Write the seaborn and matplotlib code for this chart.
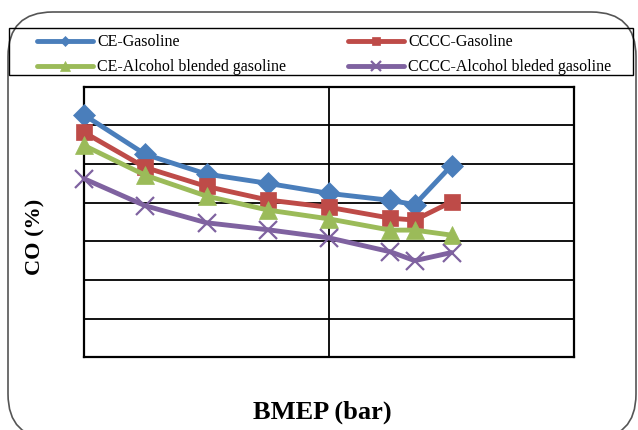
import numpy as np
import pandas as pd
import matplotlib
matplotlib.use("Agg")
import matplotlib.pyplot as plt
from matplotlib.patches import FancyBboxPatch, Rectangle
import seaborn as sns

sns.set_theme(style="white")
plt.rcParams['font.family'] = ['Liberation Serif', 'DejaVu Serif']
plt.rcParams['text.color'] = 'black'
plt.rcParams['axes.labelcolor'] = 'black'

# BMEP positions (relative axis units; no tick labels in reference)
bmep = [0.0, 1.25, 2.5, 3.75, 5.0, 6.25, 6.75, 7.5]
ce_gasoline = [6.27, 5.25, 4.74, 4.50, 4.24, 4.06, 3.95, 4.96]
cccc_gasoline = [5.82, 4.91, 4.42, 4.07, 3.88, 3.60, 3.55, 4.02]
ce_alcohol = [5.48, 4.71, 4.17, 3.81, 3.58, 3.29, 3.29, 3.16]
cccc_alcohol = [4.62, 3.92, 3.48, 3.30, 3.09, 2.73, 2.50, 2.71]

series_names = ["CE-Gasoline", "CCCC-Gasoline",
                "CE-Alcohol blended gasoline", "CCCC-Alcohol bleded gasoline"]
series_vals = [ce_gasoline, cccc_gasoline, ce_alcohol, cccc_alcohol]
colors = ["#4A7EBB", "#BE4B48", "#9BBB59", "#7F62A0"]
markers = ["D", "s", "^", "x"]
msizes = [11, 12, 13, 13]

fig = plt.figure(figsize=(6.38, 4.30), dpi=100)
W, H = 638, 430
ax = fig.add_axes([84 / W, 1 - 357.3 / H, 490 / W, 270.6 / H])

# rounded outer border
box = FancyBboxPatch((8 / W, -0.02), 628 / W, (430 - 12) / H + 0.02,
                     boxstyle="round,pad=0,rounding_size=0.07",
                     transform=fig.transFigure, fill=False,
                     edgecolor="#555555", linewidth=1.2, zorder=0,
                     mutation_aspect=W / H)
fig.patches.append(box)

# legend frame
fig.patches.append(Rectangle((9 / W, 1 - 75 / H), (633 - 9) / W, 47 / H,
                             transform=fig.transFigure, fill=False,
                             edgecolor="black", linewidth=1.0, zorder=1))

for name, vals, c, m, ms in zip(series_names, series_vals, colors, markers, msizes):
    df = pd.DataFrame({"BMEP": bmep, "CO": vals})
    sns.lineplot(data=df, x="BMEP", y="CO", ax=ax, color=c, linewidth=3.5,
                 marker=m, markersize=ms, markeredgecolor=c,
                 markeredgewidth=1.6 if m == "x" else 0.5,
                 label=name, zorder=3, clip_on=False)

ax.set_xlim(0, 10)
ax.set_ylim(0, 7)
ax.set_xticks([0, 5, 10])
ax.set_yticks(range(0, 8))
ax.tick_params(left=False, bottom=False, labelleft=False, labelbottom=False)
ax.grid(True, color="black", linewidth=1.3)
ax.set_axisbelow(True)
for s in ax.spines.values():
    s.set_color("black")
    s.set_linewidth(1.6)

ax.set_xlabel("BMEP (bar)", fontsize=19, fontweight="bold", va="center", ha="center")
ax.xaxis.set_label_coords((322 - 84) / 490, (357.3 - 412) / 270.6)
ax.set_ylabel("CO (%)", fontsize=16, fontweight="bold", va="center", ha="center")
ax.yaxis.set_label_coords((35.5 - 84) / 490, (357.3 - 237) / 270.6)

handles, labels = ax.get_legend_handles_labels()
ax.legend_.remove()
order = [0, 2, 1, 3]
fs = 11.5
px_per_em = fs * 100 / 72
leg = fig.legend([handles[i] for i in order], [labels[i] for i in order],
                 loc="upper left", ncol=2,
                 bbox_to_anchor=(37 / W, 1 - 34.5 / H),
                 borderaxespad=0, borderpad=0, fontsize=fs, frameon=False,
                 handlelength=56 / px_per_em, handletextpad=4 / px_per_em,
                 columnspacing=62 / px_per_em,
                 markerscale=0.5, labelspacing=0.55)

fig.savefig("out.png", dpi=100)
